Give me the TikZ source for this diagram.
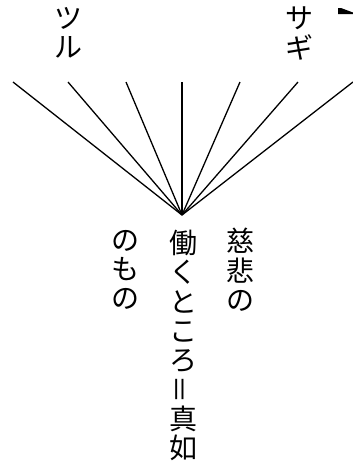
\documentclass[tikz,border=0pt]{standalone}
\usepackage{fontspec}
\usepackage{graphicx}
\newfontfamily\cjk{Noto Sans CJK JP}
\newcommand{\vequal}{\raisebox{-0.12em}{\rotatebox{90}{＝}}}
\begin{document}
\begin{tikzpicture}[x=1pt,y=-1pt,
  ray/.style={line width=1.3pt},
  vtext/.style={font=\cjk\fontsize{28}{29.3}\selectfont, align=center, inner sep=0pt, anchor=north}]
\useasboundingbox (0,0) rectangle (353,467);
\coordinate (c) at (182,215);
\coordinate (e1) at (13,82);
\coordinate (e2) at (68,82);
\coordinate (e3) at (126,82);
\coordinate (e4) at (182,82);
\coordinate (e5) at (240,82);
\coordinate (e6) at (298,82);
\coordinate (e7) at (353,82);
\foreach \i in {1,...,7} \draw[ray] (c) -- (e\i);
\node[vtext] (tsuru) at (69,7) {ツ\\ル};
\node[vtext] (sagi) at (299,7) {サ\\ギ};
\node[vtext] (jihi) at (240,228) {慈\\悲\\の};
\node[vtext] (hataraku) at (183,230) {働\\く\\と\\こ\\ろ\\\vequal\\真\\如};
\node[vtext] (nomono) at (125,230) {の\\も\\の};
\fill (338,8) -- (341,8) -- (353,12.5) -- (353,14) -- (338,14) -- cycle;
\end{tikzpicture}
\end{document}
